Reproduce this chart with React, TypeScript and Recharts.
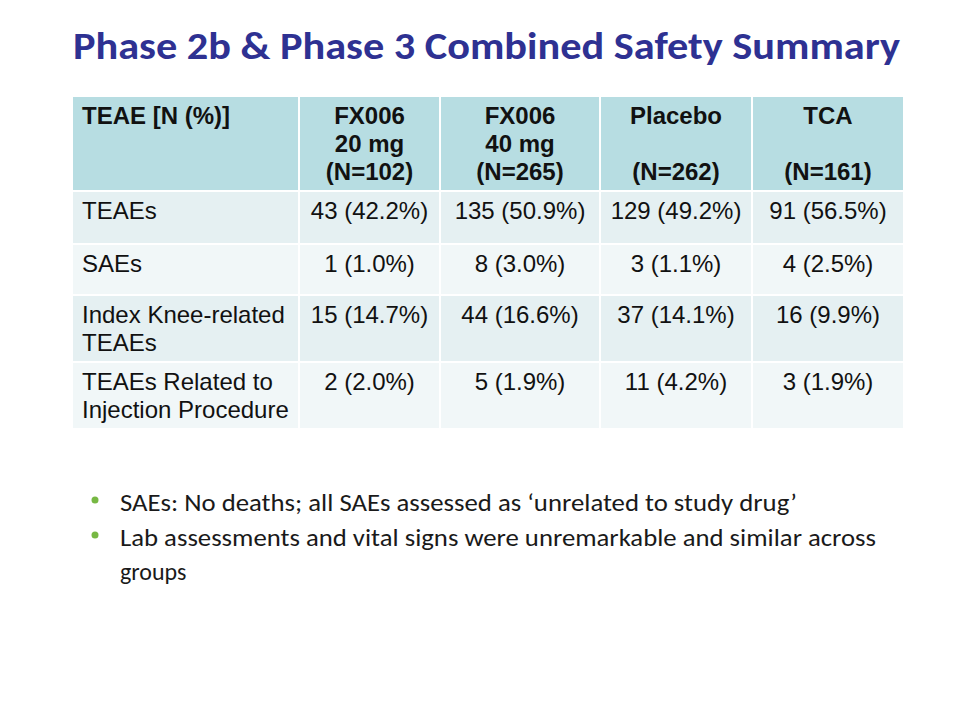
import React from "react";
import { BarChart, Bar, XAxis, YAxis } from "recharts";

// ---- data ----
const titleText = "Phase 2b & Phase 3 Combined Safety Summary";
const firstHeader = "TEAE [N (%)]";
const groupNames = ["FX006", "FX006", "Placebo", "TCA"];
const groupDoses = ["20 mg", "40 mg", "", ""];
const groupN = [102, 265, 262, 161];
const categories = [
  "TEAEs",
  "SAEs",
  "Index Knee-related\nTEAEs",
  "TEAEs Related to\nInjection Procedure",
];
const fx20Counts = [43, 1, 15, 2];
const fx20Pct = [42.2, 1.0, 14.7, 2.0];
const fx40Counts = [135, 8, 44, 5];
const fx40Pct = [50.9, 3.0, 16.6, 1.9];
const placeboCounts = [129, 3, 37, 11];
const placeboPct = [49.2, 1.1, 14.1, 4.2];
const tcaCounts = [91, 4, 16, 3];
const tcaPct = [56.5, 2.5, 9.9, 1.9];
const bullets = [
  ["SAEs: No deaths; all SAEs assessed as \u2018unrelated to study drug\u2019"],
  ["Lab assessments and vital signs were unremarkable and similar across", "groups"],
];

// ---- layout ----
const colWidths = [227, 141, 160, 152, 152];
const rowHeights = [95, 53, 51, 67, 67];
const tableLeft = 72;
const tableTop = 96;
const tableWidth = colWidths.reduce((a, b) => a + b, 0);
const rowFills = ["#b7dde2", "#e5f0f2", "#f1f7f8", "#e5f0f2", "#f1f7f8"];
const FONT = "'Liberation Sans', Arial, sans-serif";
const SLIDE_FONT = "Calibri, Carlito, Lato, sans-serif";

const fmt = (c: number, p: number) => `${c} (${p.toFixed(1)}%)`;

const headerTexts = [
  firstHeader,
  ...groupNames.map((g, i) => `${g}\n${groupDoses[i]}\n(N=${groupN[i]})`),
];

const bodyTexts = categories.map((cat, r) => [
  cat,
  fmt(fx20Counts[r], fx20Pct[r]),
  fmt(fx40Counts[r], fx40Pct[r]),
  fmt(placeboCounts[r], placeboPct[r]),
  fmt(tcaCounts[r], tcaPct[r]),
]);

const allRows = [headerTexts, ...bodyTexts];

function makeRow(texts: string[], r: number) {
  const o: any = { name: `row${r}` };
  colWidths.forEach((w, i) => {
    o[`w${i}`] = w;
    o[`t${i}`] = texts[i];
  });
  return o;
}

function cellShape(col: number, bold: boolean, fill: string) {
  return (p: any) => {
    const { x, y, width, height, payload } = p;
    const lines = String(payload[`t${col}`]).split("\n");
    const left = col === 0;
    const tx = left ? x + 10 : x + width / 2;
    return (
      <g>
        <rect x={x} y={y} width={width} height={height} fill={fill} stroke="#ffffff" strokeWidth={2} />
        <text
          x={tx}
          y={y + 28}
          textAnchor={left ? "start" : "middle"}
          fontFamily={FONT}
          fontSize={24}
          fontWeight={bold ? 700 : 400}
          fill="#111111"
        >
          {lines.map((ln, k) => (
            <tspan key={k} x={tx} dy={k === 0 ? 0 : 28}>
              {ln || "\u00a0"}
            </tspan>
          ))}
        </text>
      </g>
    );
  };
}

function TableRow({ r }: { r: number }) {
  const data = [makeRow(allRows[r], r)];
  const top = tableTop + rowHeights.slice(0, r).reduce((a, b) => a + b, 0);
  const bold = r === 0;
  return (
    <div style={{ position: "absolute", left: tableLeft, top, width: tableWidth, height: rowHeights[r] }}>
      <BarChart
        width={tableWidth}
        height={rowHeights[r]}
        data={data}
        layout="vertical"
        margin={{ top: 0, right: 0, bottom: 0, left: 0 }}
        barCategoryGap={0}
        barGap={0}
      >
        <XAxis type="number" hide domain={[0, tableWidth]} />
        <YAxis type="category" dataKey="name" hide />
        {colWidths.map((_, i) => (
          <Bar
            key={i}
            dataKey={`w${i}`}
            stackId="cells"
            fill={rowFills[r]}
            isAnimationActive={false}
            shape={cellShape(i, bold, rowFills[r])}
          />
        ))}
      </BarChart>
    </div>
  );
}

export default function App() {
  const bulletBase = [511, 546];
  return (
    <div style={{ position: "absolute", left: 0, top: 0, width: 960, height: 720, background: "#ffffff", overflow: "hidden" }}>
      <svg width={960} height={720} style={{ position: "absolute", left: 0, top: 0 }}>
        <text
          x={73}
          y={59}
          fontFamily={SLIDE_FONT}
          fontWeight={700}
          fontSize={38}
          fill="#2e3192"
          textLength={827}
          lengthAdjust="spacingAndGlyphs"
        >
          {titleText}
        </text>
        {bullets.map((b, i) => {
          const base = bulletBase[i];
          return (
            <g key={i}>
              <circle cx={95} cy={base - 11} r={3.5} fill="#77b843" />
              {b.map((ln, k) => (
                <text
                  key={k}
                  x={120}
                  y={base + k * 34}
                  fontFamily={SLIDE_FONT}
                  fontSize={24}
                  fill="#1a1a1a"
                  {...(k === 0 ? { textLength: i === 0 ? 677 : 756, lengthAdjust: "spacingAndGlyphs" } : {})}
                >
                  {ln}
                </text>
              ))}
            </g>
          );
        })}
      </svg>
      {rowHeights.map((_, r) => (
        <TableRow key={r} r={r} />
      ))}
    </div>
  );
}
